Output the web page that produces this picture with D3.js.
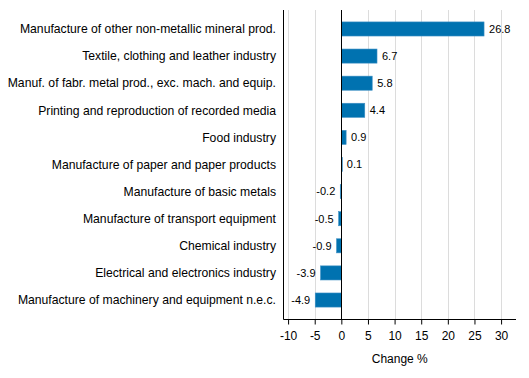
<!DOCTYPE html>
<html><head><meta charset="utf-8">
<script src="https://cdn.jsdelivr.net/npm/d3@7"></script>
<style>body{margin:0;background:#fff}svg{display:block;font-family:"Liberation Sans",Arial,sans-serif}</style>
</head><body><svg id="c" width="529" height="378"></svg>
<script>
const categories = [
  "Manufacture of other non-metallic mineral prod.",
  "Textile, clothing and leather industry",
  "Manuf. of fabr. metal prod., exc. mach. and equip.",
  "Printing and reproduction of recorded media",
  "Food industry",
  "Manufacture of paper and paper products",
  "Manufacture of basic metals",
  "Manufacture of transport equipment",
  "Chemical industry",
  "Electrical and electronics industry",
  "Manufacture of machinery and equipment n.e.c."
];
const values = [26.8, 6.7, 5.8, 4.4, 0.9, 0.1, -0.2, -0.5, -0.9, -3.9, -4.9];
const xTicks = [-10, -5, 0, 5, 10, 15, 20, 25, 30];
const xTitle = "Change %";

const svg = d3.select("#c");
const L = 283.5, R = 516, T = 10, B = 319;
const x = d3.scaleLinear().domain([-10.86, 32.8]).range([L, R]);
const y = d3.scaleBand().domain(categories).range([T, B]).paddingInner(0.48).paddingOuter(0.44);

// gridlines
svg.append("g").selectAll("line").data(xTicks.filter(d => d !== 0)).join("line")
  .attr("x1", d => Math.round(x(d)) + 0.5).attr("x2", d => Math.round(x(d)) + 0.5)
  .attr("y1", T).attr("y2", B).attr("stroke", "#dcdcdc").attr("stroke-width", 1);

// bars
svg.append("g").selectAll("rect").data(values).join("rect")
  .attr("x", d => x(Math.min(0, d)))
  .attr("width", d => Math.max(1, Math.abs(x(d) - x(0))))
  .attr("y", (d, i) => y(categories[i]))
  .attr("height", y.bandwidth())
  .attr("fill", "#0072b0")
  .attr("stroke", "#3d8fc4").attr("stroke-width", 0.6);

// zero line
svg.append("line").attr("x1", Math.round(x(0)) + 0.5).attr("x2", Math.round(x(0)) + 0.5)
  .attr("y1", T).attr("y2", B).attr("stroke", "#000").attr("stroke-width", 1);

// value labels
svg.append("g").selectAll("text").data(values).join("text")
  .attr("x", d => d >= 0 ? x(d) + 5 : x(d) - 5)
  .attr("y", (d, i) => y(categories[i]) + y.bandwidth() / 2)
  .attr("dy", "0.35em")
  .attr("text-anchor", d => d >= 0 ? "start" : "end")
  .attr("font-size", 11).attr("fill", "#000")
  .text(d => d.toFixed(1));

// category labels
svg.append("g").selectAll("text").data(categories).join("text")
  .attr("x", 276)
  .attr("y", d => y(d) + y.bandwidth() / 2)
  .attr("dy", "0.35em")
  .attr("text-anchor", "end")
  .attr("font-size", 12.2).attr("fill", "#000")
  .text(d => d);

// left axis line
svg.append("line").attr("x1", L).attr("x2", L).attr("y1", T).attr("y2", B + 0.5)
  .attr("stroke", "#000").attr("stroke-width", 1);

// bottom axis
const xAxis = d3.axisBottom(x).tickValues(xTicks).tickSize(5).tickSizeOuter(0).tickPadding(7)
  .tickFormat(d => d);
const gx = svg.append("g").attr("transform", `translate(0,${B + 0.5})`).call(xAxis);
gx.select(".domain").attr("stroke", "#000").attr("d", `M${L},0H${R}`);
gx.selectAll(".tick line").attr("stroke", "#000");
gx.selectAll(".tick text").attr("font-size", 12).attr("font-family", "Liberation Sans, Arial, sans-serif").attr("fill", "#000");

svg.append("text").attr("x", (L + R) / 2).attr("y", 363)
  .attr("text-anchor", "middle").attr("font-size", 12).attr("fill", "#000").text(xTitle);
</script></body></html>
